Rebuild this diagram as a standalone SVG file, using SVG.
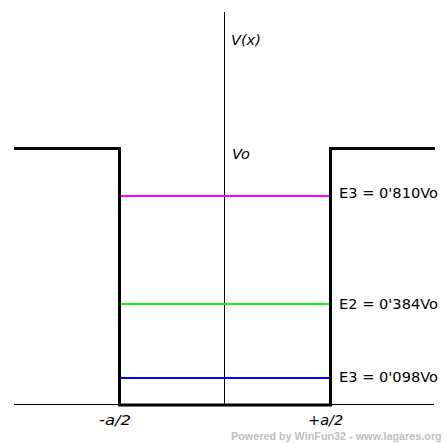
<svg xmlns="http://www.w3.org/2000/svg" width="448" height="444" viewBox="0 0 448 444">
<style>
.lbl{font-family:"DejaVu Sans",Tahoma,sans-serif;font-size:14.5px;fill:#000}
.it{font-style:italic}
.well{stroke:#000;stroke-width:3;fill:none}
.ax{stroke:#000;stroke-width:1;fill:none}
.lvl{stroke-width:2;fill:none}
</style>
<rect width="448" height="444" fill="#fff"/>
<g id="axes">
<line class="ax" x1="14" y1="404.5" x2="434" y2="404.5"/>
<line class="ax" x1="224.5" y1="12" x2="224.5" y2="404"/>
</g>
<g id="well">
<polyline class="well" points="14,148.5 119.5,148.5 119.5,405 330.5,405 330.5,148.5 435,148.5"/>
</g>
<g id="connectors">
<line class="lvl" x1="121" y1="196" x2="329" y2="196" stroke="#ff00ff"/>
<line class="lvl" x1="121" y1="304" x2="329" y2="304" stroke="#00ff00"/>
<line class="lvl" x1="121" y1="378" x2="329" y2="378" stroke="#0000ff"/>
</g>
<g id="labels">
<text class="lbl it" x="231" y="45">V(x)</text>
<text class="lbl it" x="232" y="159">Vo</text>
<text class="lbl" x="339" y="198" textLength="99" lengthAdjust="spacingAndGlyphs">E3 = 0'810Vo</text>
<text class="lbl" x="339" y="309" textLength="99" lengthAdjust="spacingAndGlyphs">E2 = 0'384Vo</text>
<text class="lbl" x="339" y="382" textLength="99" lengthAdjust="spacingAndGlyphs">E3 = 0'098Vo</text>
<text class="lbl it" x="99" y="425" textLength="32" lengthAdjust="spacingAndGlyphs">-a/2</text>
<text class="lbl it" x="308" y="425">+a/2</text>
<text x="231" y="439.5" font-family="'Liberation Sans',Arial,sans-serif" font-weight="bold" font-size="10.8" fill="#c0c0c0">Powered by WinFun32 - www.lagares.org</text>
</g>
</svg>
